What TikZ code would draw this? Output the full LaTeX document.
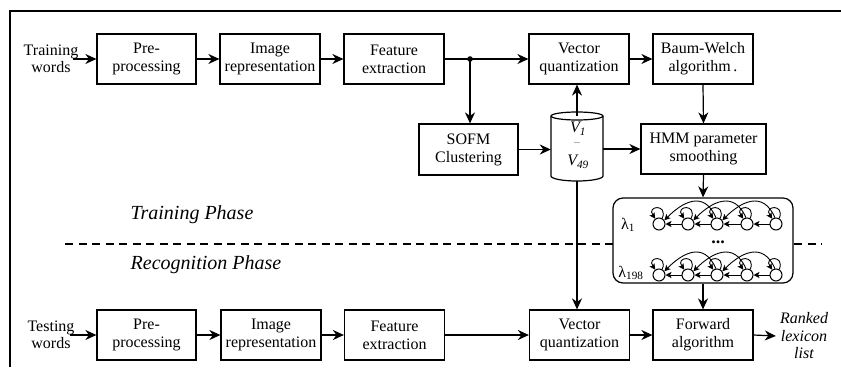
\documentclass[tikz,border=0pt]{standalone}
\usepackage{fontspec}
\setmainfont{Liberation Serif}
\usetikzlibrary{arrows.meta,calc,positioning}

\tikzset{
  blk/.style={draw, line width=1.2pt, minimum width=100pt, minimum height=50pt,
    inner sep=0pt, align=center, font=\fontsize{16}{18}\selectfont},
  lbl/.style={inner sep=0pt, align=center, font=\fontsize{16}{17.5}\selectfont},
  phase/.style={inner sep=0pt, font=\fontsize{20}{22}\selectfont\itshape},
  flow/.style={line width=1.2pt, -{Stealth[length=11pt,width=10pt,inset=3.5pt]}},
  st/.style={circle, draw, line width=1pt, minimum size=12pt, inner sep=0pt},
  tr/.style={line width=0.9pt, -{Stealth[length=6pt,width=6pt,inset=1.5pt]}},
}

\begin{document}
\begin{tikzpicture}[x=1pt,y=-1pt]
\useasboundingbox (0,0) rectangle (841,367);

% outer frame (only top and left edges fall inside the page)
\draw[line width=2.4pt] (10,367) -- (10,11) -- (841,11);

% phase separator
\draw[line width=1.7pt, dash pattern=on 8pt off 5.5pt] (65,244) -- (822,244);
\node[phase] (tp) at (192,215) {Training Phase};
\node[phase] (rp) at (206,265) {Recognition Phase};

% ---------- training row ----------
\node[lbl] (tw) at (51,59) {Training\\words};
\node[blk, minimum width=99pt] (pre1) at (146.5,59) {Pre-\\processing};
\node[blk] (img1) at (270,59) {Image\\representation};
\node[blk] (fe1) at (394,59) {Feature\\extraction};
\node[blk] (vq1) at (579,59) {Vector\\quantization};
\node[blk] (bw) at (703,59) {Baum-Welch\\algorithm\,.};

\coordinate (jn) at (470,59);
\draw[flow] ([xshift=-5pt]tw.east) -- (pre1.west);
\draw[flow] (pre1) -- (img1);
\draw[flow] (img1) -- (fe1);
\draw[flow] (fe1.east) -- (vq1.west);
\draw[flow] (vq1) -- (bw);
\fill (jn) circle (2.8pt);

% ---------- codebook row ----------
\node[blk, minimum width=99pt, minimum height=51pt] (sofm) at (468.5,149.5) {SOFM\\Clustering};
\node[blk, minimum width=125pt] (smooth) at (703.5,149) {HMM parameter\\smoothing};

% codebook cylinder
\node[minimum width=52pt, minimum height=66pt, inner sep=0pt] (cyl) at (577,146) {};
\coordinate (cyltop) at (577,116);
\draw[line width=1.2pt, fill=white]
  (551,116) -- (551,176) arc[start angle=180, end angle=360, x radius=26pt, y radius=5pt]
  -- (603,116);
\draw[line width=1.2pt] (cyltop) ellipse [x radius=26pt, y radius=4pt];
\node[font=\fontsize{16}{18}\selectfont\itshape, inner sep=0pt] (v1) at (578,129) {V\textsubscript{\textit{1}}};
\node[font=\fontsize{8}{9}\selectfont, inner sep=0pt] (vd) at (577,143) {...};
\node[font=\fontsize{16}{18}\selectfont\itshape, inner sep=0pt] (v49) at (578,162) {V\textsubscript{\textit{49}}};

\draw[flow] (jn) -- (jn |- sofm.north);
\draw[flow] (cyltop) -- (cyltop |- vq1.south);
\draw[flow] (sofm.east) -- (sofm.east -| cyl.west);
\draw[flow] (cyl.east |- smooth.west) -- (smooth.west);
\draw[flow] (bw.south) -- (smooth.north);

% ---------- word models ----------
\node[draw, line width=1.2pt, rounded corners=10pt, fill=white,
      minimum width=180pt, minimum height=85pt] (models) at (703,240.5) {};
\draw[flow] (smooth.south) -- (models.north);

\node[lbl] (la) at (628,225) {λ\textsubscript{1}};
\node[lbl] (lb) at (631,273) {λ\textsubscript{198}};
\node[font=\fontsize{18}{18}\selectfont\bfseries, inner sep=0pt] (dots) at (718,242) {...};

\foreach \r/\yy in {a/224, b/275} {
  \foreach \i/\xx in {1/659, 2/688, 3/717, 4/747, 5/776}
    \node[st] (\r\i) at (\xx,\yy) {};
  \foreach \i in {1,...,5}
    \draw[tr] (\r\i.60) .. controls +(6,-15) and +(-9,-13) .. (\r\i.125);
  \foreach \i/\j in {2/1, 3/2, 4/3, 5/4}
    \draw[tr] (\r\i) -- (\r\j);
  \foreach \i/\j in {3/1, 4/2, 5/3}
    \draw[tr] (\r\i.100) .. controls +(-12,-28) and +(18,-18) .. (\r\j.35);
}

% ---------- recognition row ----------
\node[lbl] (sw) at (51,335) {Testing\\words};
\node[blk, minimum width=99pt] (pre2) at (146.5,335) {Pre-\\processing};
\node[blk] (img2) at (271,335) {Image\\representation};
\node[blk] (fe2) at (394.5,335) {Feature\\extraction};
\node[blk] (vq2) at (579.5,335) {Vector\\quantization};
\node[blk] (fw) at (703,335) {Forward\\algorithm};
\node[lbl, font=\fontsize{16}{17.5}\selectfont\itshape] (out) at (804,336) {Ranked\\lexicon\\list};

\draw[flow] ([xshift=-5pt]sw.east) -- (pre2.west);
\draw[flow] (pre2) -- (img2);
\draw[flow] (img2) -- (fe2);
\draw[flow] (fe2) -- (vq2);
\draw[flow] (vq2) -- (fw);
\draw[flow] (fw.east) -- ([xshift=-4pt]out.west);
\draw[flow] (577,181) -- (577,0 |- vq2.north);
\draw[flow] (models.south) -- (fw.north);
\end{tikzpicture}
\end{document}
